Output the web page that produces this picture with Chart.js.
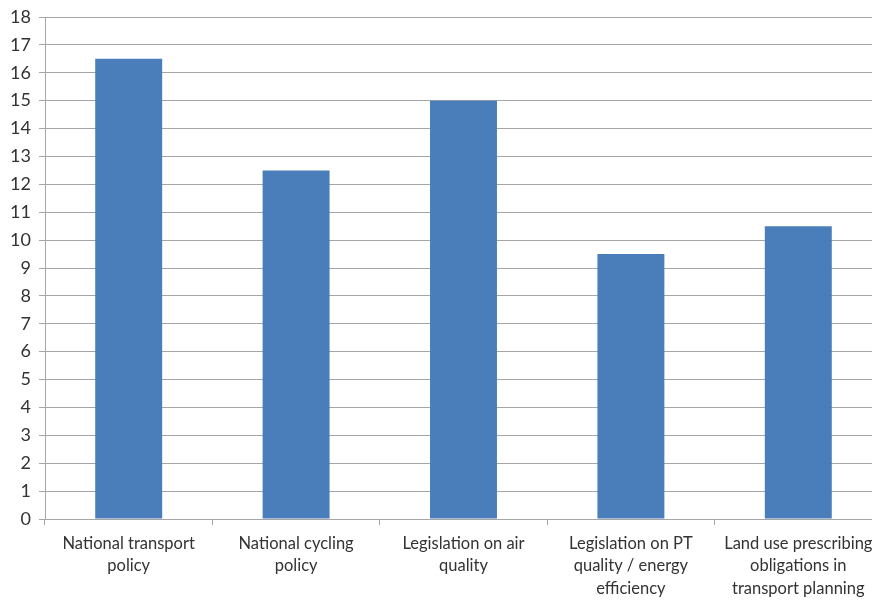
<!DOCTYPE html>
<html>
<head>
<meta charset="utf-8">
<script src="https://cdn.jsdelivr.net/npm/chart.js@4/dist/chart.umd.min.js"></script>
<style>
  html, body { margin: 0; padding: 0; background: #fff; overflow: hidden; }
  #wrap { width: 882px; height: 600px; position: relative; }
</style>
</head>
<body>
<div id="wrap"><canvas id="chart"></canvas></div>
<script>
// ── Data ──
const categories = [
    ['National transport', 'policy'],
    ['National cycling', 'policy'],
    ['Legislation on air', 'quality'],
    ['Legislation on PT', 'quality / energy', 'efficiency'],
    ['Land use prescribing', 'obligations in', 'transport planning']
];
const values = [16.5, 12.5, 15, 9.5, 10.5];
const yMin = 0, yMax = 18, yStep = 1;

const gridColor = '#a6a6a6';
const textColor = '#333333';
const fontFamily = 'Lato, "Open Sans", sans-serif';

new Chart(document.getElementById('chart'), {
    type: 'bar',
    data: {
        labels: categories,
        datasets: [{
            data: values,
            backgroundColor: '#4a7ebb',
            borderWidth: 0,
            categoryPercentage: 1,
            barPercentage: 0.4
        }]
    },
    options: {
        responsive: true, maintainAspectRatio: false, animation: false,
        layout: { padding: { top: 4, right: 0, left: 0, bottom: 0 } },
        plugins: { legend: { display: false }, tooltip: { enabled: false } },
        scales: {
            x: {
                grid: { offset: true, drawOnChartArea: false, color: gridColor, tickLength: 6 },
                border: { color: gridColor },
                ticks: { color: textColor, font: { family: fontFamily, size: 16.5, lineHeight: 1.34 }, maxRotation: 0, autoSkip: false, padding: 8 },
                afterFit: s => { s.height = 81; }
            },
            y: {
                min: yMin, max: yMax,
                grid: { color: gridColor, tickLength: 6 },
                border: { color: gridColor },
                ticks: { stepSize: yStep, color: textColor, font: { family: fontFamily, size: 18, lineHeight: 1 }, padding: 8 },
                afterFit: s => { s.width = 45; }
            }
        }
    }
});
</script>
</body>
</html>
